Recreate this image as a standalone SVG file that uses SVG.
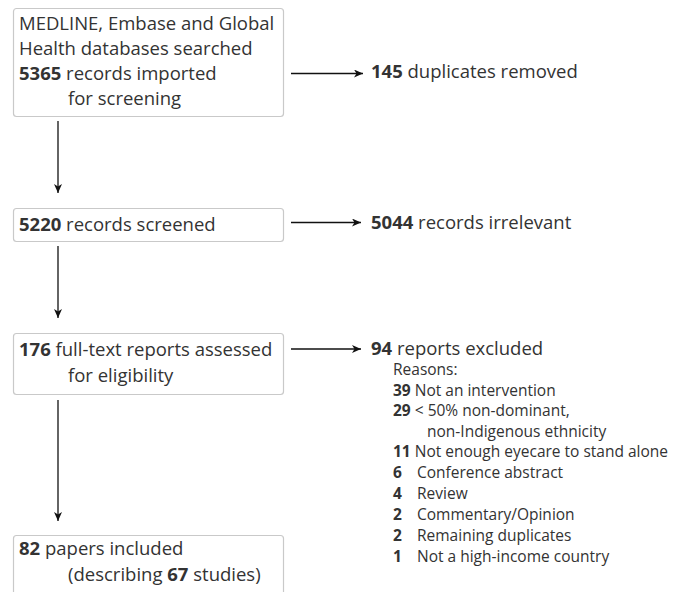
<svg xmlns="http://www.w3.org/2000/svg" width="683" height="592" viewBox="0 0 683 592">
<defs>
<style>
.box{fill:#fff;stroke:#c9c9c9;stroke-width:1.2}
.t{font-family:"Open Sans","Noto Sans","Liberation Sans",sans-serif;font-size:18.5px;fill:#333}
.s{font-family:"Open Sans","Noto Sans","Liberation Sans",sans-serif;font-size:15.5px;fill:#333}
.b{font-weight:bold}
.ln{stroke:#111;stroke-width:1.3;fill:none}
</style>
<marker id="ah" markerWidth="10" markerHeight="8" refX="9" refY="4" orient="auto" markerUnits="userSpaceOnUse">
<path d="M0,0 L9,4 L0,8 L2.5,4 Z" fill="#111"/>
</marker>
</defs>
<rect width="683" height="592" fill="#fff"/>
<g id="n1">
<rect class="box" x="13.5" y="8.5" width="270" height="108" rx="3"/>
<text class="t" x="19" y="30">MEDLINE, Embase and Global</text>
<text class="t" x="19" y="55">Health databases searched</text>
<text class="t" x="19" y="80"><tspan class="b">5365</tspan> records imported</text>
<text class="t" x="68" y="105">for screening</text>
</g>
<g id="n2">
<rect class="box" x="13.5" y="208.5" width="270" height="33" rx="3"/>
<text class="t" x="19" y="231"><tspan class="b">5220</tspan> records screened</text>
</g>
<g id="n3">
<rect class="box" x="13.5" y="333.5" width="270" height="61" rx="3"/>
<text class="t" x="19" y="356"><tspan class="b">176</tspan> full-text reports assessed</text>
<text class="t" x="68" y="382">for eligibility</text>
</g>
<g id="n4">
<rect class="box" x="13.5" y="535.5" width="270" height="62" rx="3"/>
<text class="t" x="19" y="555"><tspan class="b">82</tspan> papers included</text>
<text class="t" x="68" y="581">(describing <tspan class="b">67</tspan> studies)</text>
</g>
<g id="o1">
<text class="t" x="371" y="78"><tspan class="b">145</tspan> duplicates removed</text>
</g>
<g id="o2">
<text class="t" x="371" y="229"><tspan class="b">5044</tspan> records irrelevant</text>
</g>
<g id="o3">
<text class="t" x="371" y="355"><tspan class="b">94</tspan> reports excluded</text>
<text class="s" x="393" y="375">Reasons:</text>
<text class="s" x="393" y="395.5"><tspan class="b">39</tspan> Not an intervention</text>
<text class="s" x="393" y="416"><tspan class="b">29</tspan> &lt; 50% non-dominant,</text>
<text class="s" x="427" y="436.5">non-Indigenous ethnicity</text>
<text class="s" x="393" y="457"><tspan class="b">11</tspan> Not enough eyecare to stand alone</text>
<text class="s b" x="393" y="478">6</text><text class="s" x="417" y="478">Conference abstract</text>
<text class="s b" x="393" y="499">4</text><text class="s" x="417" y="499">Review</text>
<text class="s b" x="393" y="520">2</text><text class="s" x="417" y="520">Commentary/Opinion</text>
<text class="s b" x="393" y="541">2</text><text class="s" x="417" y="541">Remaining duplicates</text>
<text class="s b" x="393" y="561.5">1</text><text class="s" x="417" y="561.5">Not a high-income country</text>
</g>
<g id="connectors">
<line class="ln" x1="58" y1="121" x2="58" y2="193" marker-end="url(#ah)"/>
<line class="ln" x1="58" y1="246" x2="58" y2="318" marker-end="url(#ah)"/>
<line class="ln" x1="58" y1="400" x2="58" y2="521" marker-end="url(#ah)"/>
<line class="ln" x1="291" y1="73.5" x2="363" y2="73.5" marker-end="url(#ah)"/>
<line class="ln" x1="291" y1="222.5" x2="361" y2="222.5" marker-end="url(#ah)"/>
<line class="ln" x1="291" y1="349" x2="361" y2="349" marker-end="url(#ah)"/>
</g>
</svg>
